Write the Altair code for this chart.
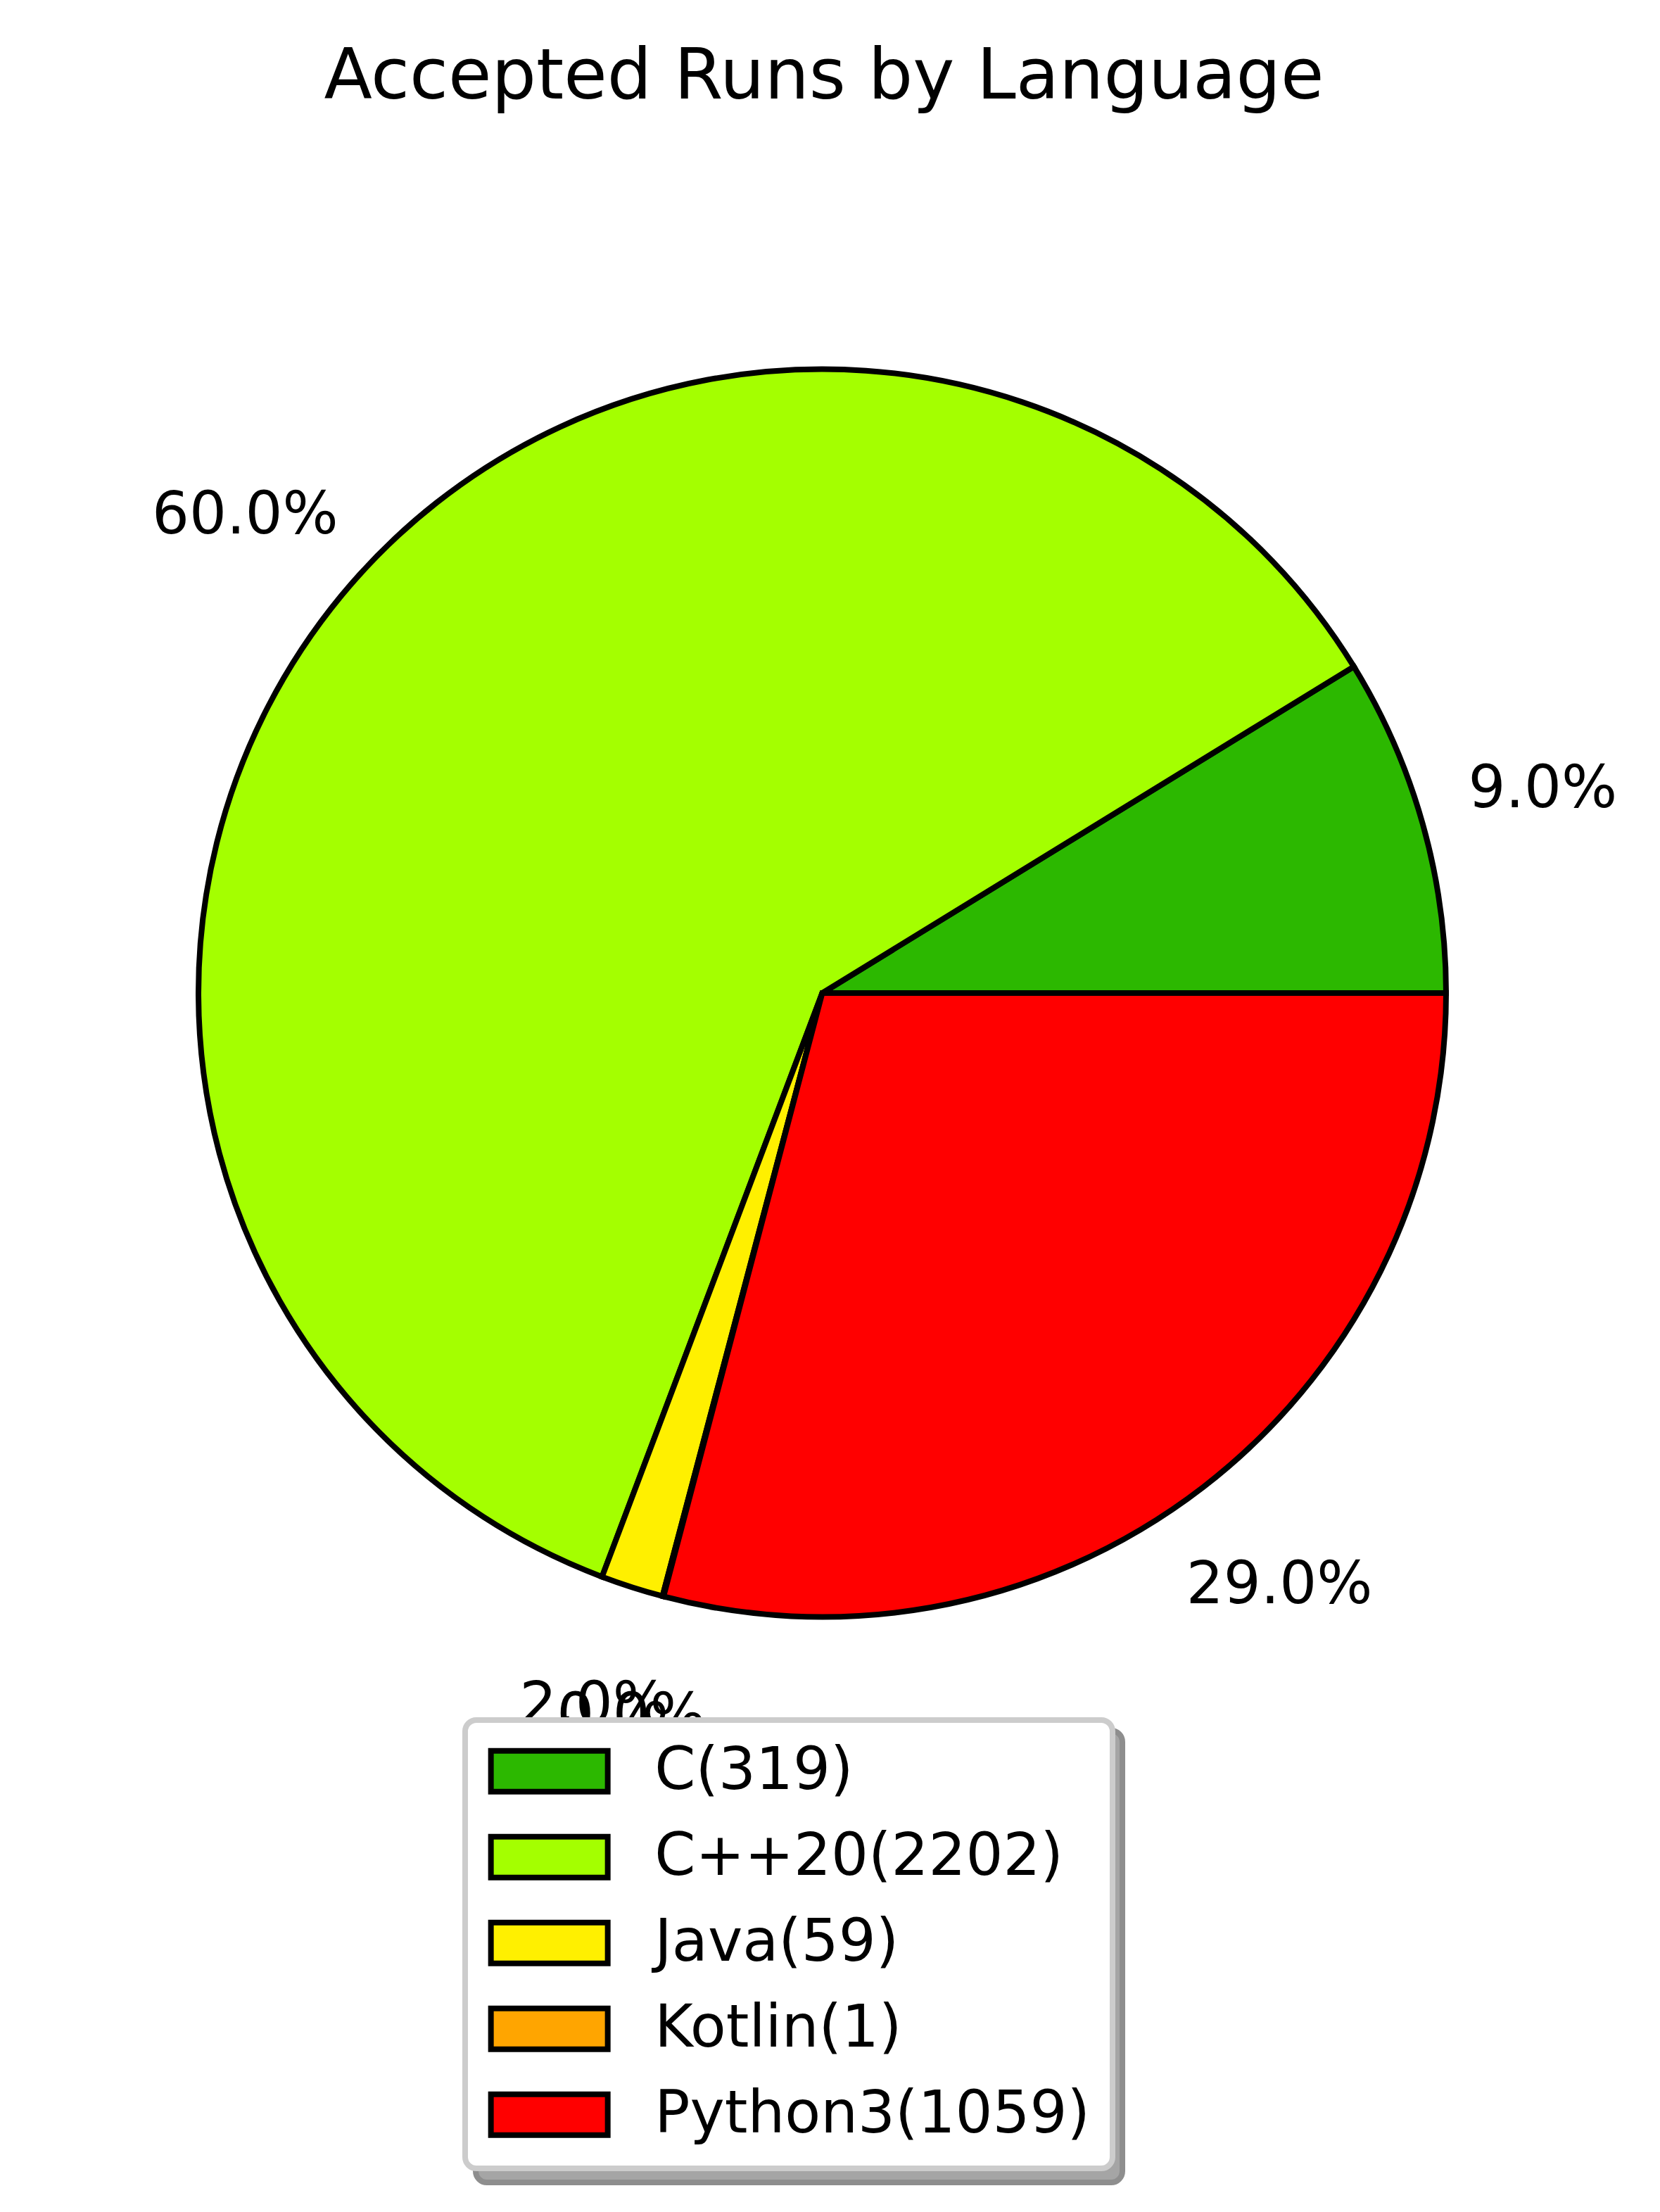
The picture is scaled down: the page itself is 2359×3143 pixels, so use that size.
import math
import altair as alt
import pandas as pd

# ---- data ----
languages = ["C", "C++20", "Java", "Kotlin", "Python3"]
counts = [319, 2202, 59, 1, 1059]
colors = ["#2cb800", "#a4ff00", "#fff000", "#ffa500", "#ff0000"]
title_text = "Accepted Runs by Language"

total = sum(counts)
legend_labels = [f"{l}({c})" for l, c in zip(languages, counts)]
pct_labels = [f"{round(c / total * 100):.1f}%" for c in counts]
# matplotlib draws counter-clockwise from 3 o'clock; Vega goes clockwise, so stack reversed
stack_order = list(range(len(languages)))[::-1]

df = pd.DataFrame({"label": legend_labels, "count": counts,
                   "pct": pct_labels, "ord": stack_order})

# ---- layout (chart pixel coordinates) ----
W, H = 2340, 3125
CX, CY, R = 1160.5, 1403, 886.5
FONT = "DejaVu Sans"
FS = 83.3

theta_scale = alt.Scale(range=[math.pi / 2, math.pi / 2 + 2 * math.pi])

rect_path = "M-2.59375,-0.90625H2.59375V0.90625H-2.59375Z"

legend = alt.Legend(
    orient="none", legendX=653, legendY=2436, title=None,
    symbolType=rect_path, symbolSize=4096,
    symbolStrokeColor="black", symbolStrokeWidth=8, symbolOffset=47,
    labelOffset=108, labelFontSize=FS, labelFont=FONT, labelColor="black",
    labelLimit=3000, rowPadding=31, padding=31,
    fillColor="white", strokeColor="#cccccc", cornerRadius=16,
)

base = alt.Chart(df)

arcs = base.mark_arc(x=CX, y=CY, radius=R, stroke="black", strokeWidth=8).encode(
    theta=alt.Theta("count:Q", stack=True, scale=theta_scale),
    color=alt.Color("label:N", scale=alt.Scale(domain=legend_labels, range=colors),
                    legend=legend),
    order=alt.Order("ord:Q"),
)

labels = base.mark_text(x=CX, y=CY, radius=R * 1.2, fontSize=FS, font=FONT,
                        color="black", align="center", baseline="middle").encode(
    theta=alt.Theta("count:Q", stack=True, scale=theta_scale),
    order=alt.Order("ord:Q"),
    text="pct:N",
)

title = alt.Chart(pd.DataFrame({"t": [title_text]})).mark_text(
    x=1163, y=132, fontSize=100, font=FONT, color="black",
    align="center", baseline="alphabetic").encode(text="t:N")

shadow = alt.Chart(pd.DataFrame({"k": [0]})).mark_rect(
    fill="#a5a5a5", stroke="#8e8e8e", strokeWidth=8, cornerRadius=16).encode(
    x=alt.value(668), x2=alt.value(1587), y=alt.value(2451), y2=alt.value(3093))

chart = alt.layer(arcs, labels, title, shadow).properties(
    width=W, height=H,
    autosize=alt.AutoSizeParams(type="none"),
    padding=0,
    background="white",
).configure_view(stroke=None).configure_legend(strokeWidth=8)

chart.save("out.html", embed_options={"renderer": "svg", "actions": False})
